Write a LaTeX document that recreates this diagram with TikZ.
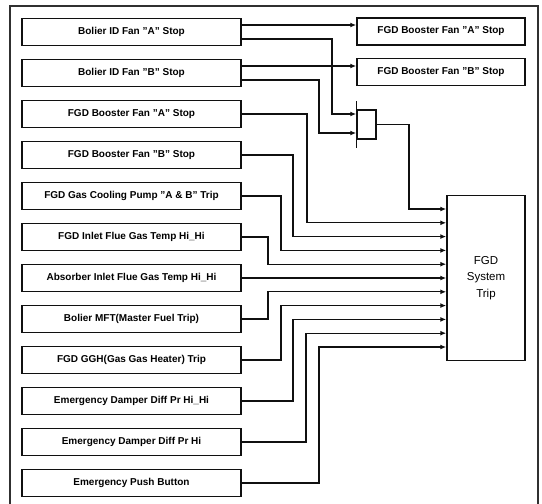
\documentclass[tikz,border=0pt]{standalone}
\usepackage{fontspec}
\setmainfont{Liberation Sans}[Ligatures=ResetAll]
\usepackage{xcolor,tikz}
\usetikzlibrary{positioning,calc,arrows.meta}
\definecolor{fgdLine}{HTML}{101010}
\definecolor{fgdFrame}{HTML}{303030}

\begin{document}
\begin{tikzpicture}[x=1pt, y=-1pt,
  condbox/.style={draw=fgdLine, line width=1.5pt, minimum width=219pt,
    minimum height=27pt, inner sep=0pt,
    font=\fontsize{10}{12}\selectfont\bfseries},
  fanbox/.style={condbox, minimum width=168pt},
  sig/.style={draw=fgdLine, line width=1.3pt},
  sigin/.style={sig, -{Latex[length=6pt,width=5pt]}}]

% --- FRAME (open at the bottom) ---
\useasboundingbox (0,0) rectangle (542,504);
\draw[fgdFrame, line width=1.3pt] (10,504) -- (10,6) -- (538,6) -- (538,504);

% --- DATA: trip conditions, top to bottom ---
\def\conds{%
  Bolier ID Fan "A" Stop,
  Bolier ID Fan "B" Stop,
  FGD Booster Fan "A" Stop,
  FGD Booster Fan "B" Stop,
  FGD Gas Cooling Pump "A \& B" Trip,
  FGD Inlet Flue Gas Temp Hi\_Hi,
  Absorber Inlet Flue Gas Temp Hi\_Hi,
  Bolier MFT(Master Fuel Trip),
  FGD GGH(Gas Gas Heater) Trip,
  Emergency Damper Diff Pr Hi\_Hi,
  Emergency Damper Diff Pr Hi,
  Emergency Push Button%
}
\def\xO{131.5}      % centre of the condition column
\def\yO{32}
\def\dy{41}         % row pitch
\def\lane{13.8}     % pitch of the inputs on the trip box

% --- CONDITION BOXES (left column) ---
\foreach [count=\i] \cname in \conds {
  \pgfmathsetmacro\cy{\yO + (\i - 1) * \dy}
  \node[condbox] (c\i) at (\xO, \cy) {\cname};
}

% --- BOOSTER FAN STOPS (top right) ---
\node[fanbox] (fanA) at (441, 31.5) {FGD Booster Fan "A" Stop};
\node[fanbox] (fanB) at (441, 72) {FGD Booster Fan "B" Stop};

% --- AND GATE of both ID fans ---
\node[draw=fgdLine, line width=1.5pt, minimum width=19pt, minimum height=29pt,
  inner sep=0pt] (gate) at (366.5, 124.5) {};
\draw[sig] ($(gate.south west)+(0,8)$) -- ($(gate.north west)+(0,-8)$);
\coordinate (g1) at ($(gate.west)+(0,-10.5)$);
\coordinate (g2) at ($(gate.west)+(0,8.5)$);

% --- FGD SYSTEM TRIP ---
\node[draw=fgdLine, line width=1.5pt, minimum width=78pt, minimum height=165pt,
  align=center, font=\fontsize{11.5}{16.5}\selectfont] (trip) at (486, 278)
  {FGD\\System\\Trip};
\foreach \k in {0,...,10} {
  \coordinate (in\k) at ($(trip.west)+(0,{(\k - 5) * \lane})$);
}

% --- ID FAN OUTPUTS ---
\coordinate (c1a) at ($(c1.east)+(0,-7)$);
\coordinate (c1b) at ($(c1.east)+(0,7)$);
\coordinate (c2a) at ($(c2.east)+(0,-7)$);
\coordinate (c2b) at ($(c2.east)+(0,7)$);
\draw[sigin] (c1a) -- (fanA.west |- c1a);
\draw[sigin] (c2a) -- (fanB.west |- c2a);
\coordinate (v1) at (332, 0);
\coordinate (v2) at (319, 0);
\draw[sigin] (c1b) -| (v1 |- g1) -- (g1);
\draw[sigin] (c2b) -| (v2 |- g2) -- (g2);

% --- GATE OUTPUT to the first input ---
\coordinate (v0) at (409, 0);
\draw[sigin] (gate.east) -| (v0 |- in0) -- (in0);

% --- CONDITIONS 3..12 to the trip box (box / input / riser x) ---
\foreach \i/\k/\xv in {3/1/307, 4/2/293, 5/3/281, 6/4/268, 7/5/268,
                       8/6/268, 9/7/281, 10/8/293, 11/9/306, 12/10/319} {
  \coordinate (v) at (\xv, 0);
  \draw[sigin] (c\i.east) -| (v |- in\k) -- (in\k);
}

\end{tikzpicture}
\end{document}
